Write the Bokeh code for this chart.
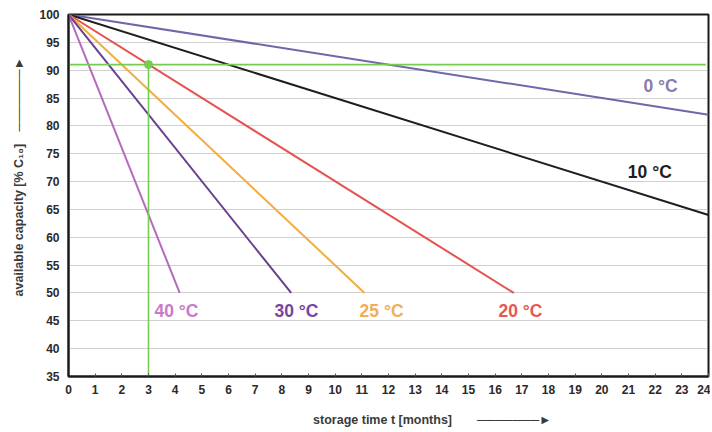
from bokeh.plotting import figure
from bokeh.models import Range1d, FixedTicker, ColumnDataSource
from bokeh.embed import file_html
from bokeh.resources import INLINE

# ---- data ----
temps = ["0 °C", "10 °C", "20 °C", "25 °C", "30 °C", "40 °C"]
start_month = [0, 0, 0, 0, 0, 0]
start_capacity = [100, 100, 100, 100, 100, 100]
end_month = [24, 24, 16.7, 11.1, 8.35, 4.17]
end_capacity = [82, 64, 50, 50, 50, 50]
line_colors = ["#6f67aa", "#1e1e1e", "#e5534f", "#f2ad3e", "#66408f", "#b569bd"]
label_colors = ["#8a7cab", "#1e1e1e", "#e8574c", "#f2ae52", "#7b449a", "#c879c8"]
label_month = [22.2, 21.8, 16.95, 11.74, 8.55, 4.05]
label_capacity = [87.2, 71.8, 46.8, 46.8, 46.8, 46.8]

marker_month = 3
marker_capacity = 91

x_ticks = list(range(0, 25))
y_ticks = list(range(35, 101, 5))

x_title = "storage time t [months]"
y_title = "available capacity [% C₁₀]"

FONT = "Liberation Sans"
ARROW = "─" * 7 + "►"
EM = "\u2003"

p = figure(width=710, height=430, output_backend="svg", toolbar_location=None,
           x_range=Range1d(0, 24), y_range=Range1d(35, 100),
           min_border_left=68, min_border_right=2, min_border_top=14, min_border_bottom=54)
p.background_fill_color = "white"
p.border_fill_color = "white"
p.outline_line_color = "#1a1a1a"
p.outline_line_width = 2

# grid
p.xgrid.visible = False
p.ygrid.ticker = FixedTicker(ticks=y_ticks)
p.ygrid.grid_line_color = "#a0a0a0"
p.ygrid.grid_line_dash = "1 1"
p.ygrid.grid_line_width = 1

# axes
for ax in (p.xaxis[0], p.yaxis[0]):
    ax.axis_line_color = "#1a1a1a"
    ax.axis_line_width = 2
    ax.major_label_text_font = FONT
    ax.major_label_text_font_style = "bold"
    ax.major_label_text_font_size = "12px"
    ax.major_label_text_color = "#2a2a2a"
    ax.minor_tick_line_color = None
    ax.axis_label_text_font = FONT
    ax.axis_label_text_font_style = "bold"
    ax.axis_label_text_font_size = "12.5px"
    ax.axis_label_text_color = "#3a3a3a"

p.xaxis.ticker = FixedTicker(ticks=x_ticks)
p.xaxis.major_tick_in = 3
p.xaxis.major_tick_out = 0
p.xaxis.major_tick_line_color = "#555555"
p.xaxis.major_label_standoff = 8
p.xaxis.axis_label = EM * 7 + x_title + EM * 2 + ARROW
p.xaxis.axis_label_standoff = 16

p.yaxis.ticker = FixedTicker(ticks=y_ticks)
p.yaxis.major_tick_in = 0
p.yaxis.major_tick_out = 0
p.yaxis.major_label_standoff = 9
p.yaxis.axis_label = EM * 3 + y_title + EM + ARROW
p.yaxis.axis_label_standoff = 10

# capacity lines
src = ColumnDataSource(dict(x0=start_month, y0=start_capacity, x1=end_month, y1=end_capacity,
                            c=line_colors))
p.segment(x0="x0", y0="y0", x1="x1", y1="y1", line_color="c", line_width=2, source=src)

# green reference lines
p.segment(x0=-0.25, y0=marker_capacity, x1=23.9, y1=marker_capacity,
          line_color="#74cc50", line_width=1.6)
p.segment(x0=marker_month, y0=35, x1=marker_month, y1=marker_capacity,
          line_color="#74cc50", line_width=1.6)
p.scatter(x=[marker_month], y=[marker_capacity], size=8, color="#74cc50")

# temperature labels
lsrc = ColumnDataSource(dict(x=label_month, y=label_capacity, t=temps, c=label_colors))
p.text(x="x", y="y", text="t", text_color="c", source=lsrc,
       text_font={"value": FONT}, text_font_style="bold", text_font_size="17.5px",
       text_align="center", text_baseline="middle")

open("out.html", "w").write(file_html(p, INLINE))
